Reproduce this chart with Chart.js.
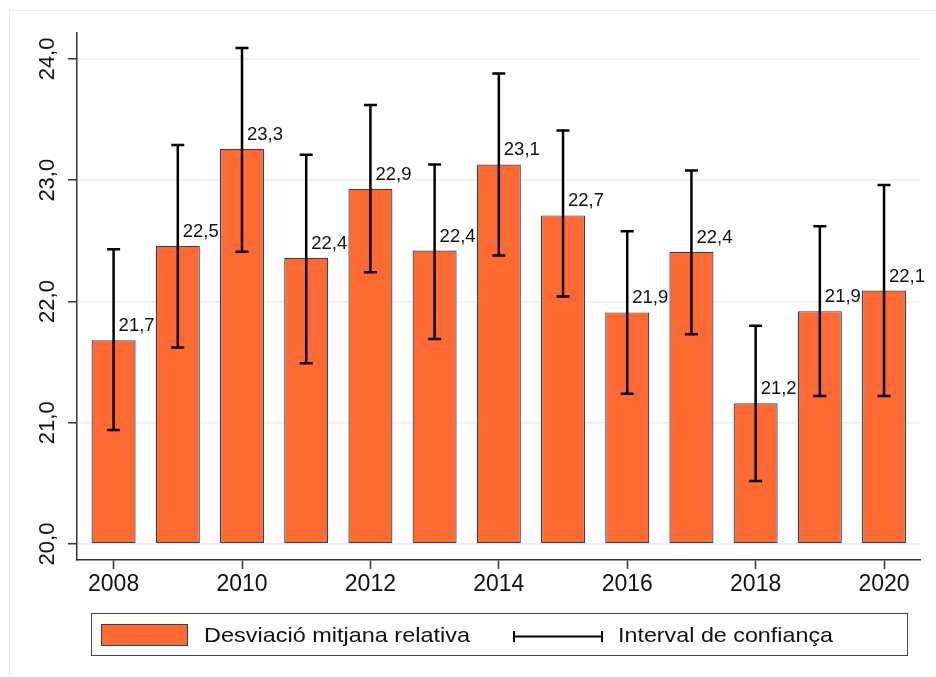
<!DOCTYPE html>
<html>
<head>
<meta charset="utf-8">
<script src="https://cdn.jsdelivr.net/npm/chart.js@4"></script>
<style>
  html, body { margin: 0; padding: 0; background: #fff; }
  #wrap { width: 936px; height: 677px; position: relative; }
</style>
</head>
<body>
<div id="wrap"><canvas id="barChart"></canvas></div>
<script>
const years = [2008, 2009, 2010, 2011, 2012, 2013, 2014, 2015, 2016, 2017, 2018, 2019, 2020];
const meanDev = [21.68, 22.46, 23.26, 22.36, 22.93, 22.42, 23.13, 22.71, 21.91, 22.41, 21.16, 21.92, 22.09];
const ciHigh = [22.43, 23.29, 24.09, 23.21, 23.62, 23.13, 23.88, 23.41, 22.58, 23.08, 21.80, 22.62, 22.96];
const ciLow = [20.94, 21.62, 22.41, 21.49, 22.24, 21.69, 22.38, 22.04, 21.24, 21.73, 20.52, 21.22, 21.22];
const yTicks = [20, 21, 22, 23, 24];
const xTicks = [2008, 2010, 2012, 2014, 2016, 2018, 2020];
const legendLabels = ["Desviació mitjana relativa", "Interval de confiança"];

const orange = "#ff6a33";
const barEdge = "#2a4561";
const axisColor = "#333333";
const font = "'Liberation Sans', Arial, sans-serif";

const fmt = (v, d) => v.toFixed(d).replace(".", ",");

// text stretched sideways to a given width (Stata's text runs a bit wide)
function wideText(c, txt, x, y, w) {
  const m = c.measureText(txt).width;
  c.save();
  c.translate(x, y);
  c.scale(w / m, 1);
  c.fillText(txt, 0, 0);
  c.restore();
}

// error bars + value labels + rotated y labels + legend + frame
const extras = {
  id: "extras",
  beforeDraw(chart) {
    const c = chart.ctx;
    c.save();
    c.strokeStyle = "#e6ecec";
    c.lineWidth = 1;
    c.strokeRect(9.5, 10.5, 940, 700);
    c.restore();
  },
  afterDatasetsDraw(chart) {
    const c = chart.ctx;
    const xs = chart.scales.x, ys = chart.scales.y;
    c.save();
    c.strokeStyle = "#000";
    c.lineWidth = 2.5;
    years.forEach((yr, i) => {
      const x = xs.getPixelForValue(yr);
      const top = ys.getPixelForValue(ciHigh[i]);
      const bot = ys.getPixelForValue(ciLow[i]);
      c.beginPath();
      c.moveTo(x, top); c.lineTo(x, bot);
      c.moveTo(x - 6.5, top); c.lineTo(x + 6.5, top);
      c.moveTo(x - 6.5, bot); c.lineTo(x + 6.5, bot);
      c.stroke();
    });
    c.fillStyle = "#111";
    c.font = "18px " + font;
    c.textAlign = "left";
    c.textBaseline = "alphabetic";
    years.forEach((yr, i) => {
      const x = xs.getPixelForValue(yr);
      const y = ys.getPixelForValue(meanDev[i]);
      wideText(c, fmt(meanDev[i], 1), x + 5, y - 9, 36);
    });
    c.restore();
  },
  afterDraw(chart) {
    const c = chart.ctx;
    const ys = chart.scales.y;
    c.save();
    c.fillStyle = "#111";
    c.font = "22px " + font;
    c.textAlign = "center";
    c.textBaseline = "middle";
    yTicks.forEach(v => {
      const y = ys.getPixelForValue(v);
      c.save();
      c.translate(48, y);
      c.rotate(-Math.PI / 2);
      c.fillText(fmt(v, 1), 0, 0);
      c.restore();
    });

    // legend
    c.strokeStyle = "#444";
    c.lineWidth = 1;
    c.strokeRect(91.5, 613.5, 816, 42);
    c.fillStyle = orange;
    c.fillRect(101, 624, 87, 22);
    c.strokeStyle = barEdge;
    c.strokeRect(101.5, 624.5, 86, 21);
    c.fillStyle = "#111";
    c.font = "21px " + font;
    c.textAlign = "left";
    wideText(c, legendLabels[0], 204, 636, 266);
    c.strokeStyle = "#000";
    c.lineWidth = 2;
    c.beginPath();
    c.moveTo(513, 636.5); c.lineTo(603, 636.5);
    c.moveTo(514, 631); c.lineTo(514, 642);
    c.moveTo(602, 631); c.lineTo(602, 642);
    c.stroke();
    wideText(c, legendLabels[1], 618, 636, 215);
    c.restore();
  }
};

const barChart = new Chart(document.getElementById("barChart"), {
  type: "bar",
  data: {
    datasets: [
      {
        label: legendLabels[0],
        data: years.map((yr, i) => ({ x: yr, y: meanDev[i] })),
        base: 20,
        backgroundColor: orange,
        borderColor: barEdge,
        borderWidth: 1.2,
        borderSkipped: false,
        barPercentage: 0.686,
        categoryPercentage: 1,
      },
    ],
  },
  options: {
    responsive: true,
    maintainAspectRatio: false,
    animation: false,
    layout: { padding: { top: 33, right: 16, left: 0, bottom: 0 } },
    plugins: {
      legend: { display: false },
      tooltip: { enabled: false },
    },
    scales: {
      x: {
        type: "linear",
        min: 2007.43,
        max: 2020.56,
        offset: false,
        afterBuildTicks: (s) => { s.ticks = xTicks.map(v => ({ value: v })); },
        afterFit: (s) => { s.height = 117; },
        grid: {
          offset: false,
          drawOnChartArea: false,
          drawTicks: true,
          tickLength: 9,
          tickColor: axisColor,
          tickWidth: 1.5,
        },
        border: { display: true, color: axisColor, width: 1.5 },
        ticks: {
          color: "#111",
          font: { family: font, size: 23 },
          padding: 2,
          maxRotation: 0,
          callback: (v) => String(v),
        },
      },
      y: {
        min: 19.868,
        max: 24.214,
        afterBuildTicks: (s) => { s.ticks = yTicks.map(v => ({ value: v })); },
        afterFit: (s) => { s.width = 77; },
        grid: {
          color: "#e8f0f1",
          lineWidth: 1.5,
          drawTicks: true,
          tickLength: 9,
          tickColor: axisColor,
          tickWidth: 1.5,
        },
        border: { display: true, color: axisColor, width: 1.5 },
        ticks: { display: false },
      },
    },
  },
  plugins: [extras],
});
</script>
</body>
</html>
